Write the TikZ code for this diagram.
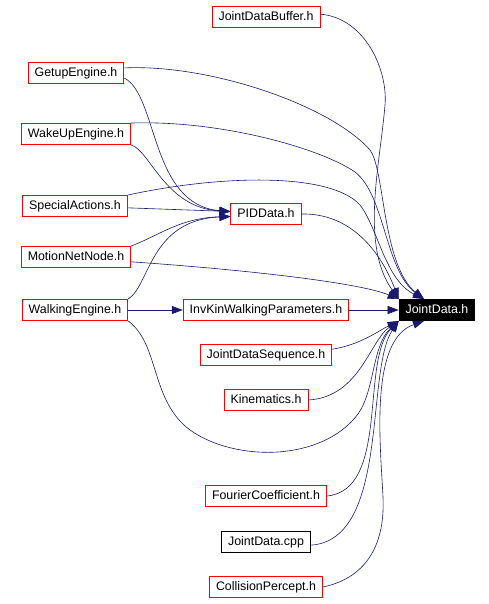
\documentclass[tikz,border=0pt]{standalone}
\usepackage{fontspec}
\setmainfont{Liberation Sans}
\usepackage{tikz}
\usetikzlibrary{arrows.meta}
\definecolor{incblue}{HTML}{191970}

\begin{document}
\begin{tikzpicture}[x=1pt, y=-1pt, >={Triangle[length=11pt,width=8pt]}, line width=0.6pt,
	hfile/.style={rectangle, draw=red, line width=0.9pt, minimum height=21pt, inner xsep=6.5pt, inner ysep=0pt, text height=9pt, text depth=2.5pt, font=\fontsize{12.4}{14}\selectfont},
	cfile/.style={hfile, draw=black},
	focus/.style={hfile, draw=black, fill=black, text=white},
	inc/.style={->, draw=incblue, line width=0.6pt}]
	
	\useasboundingbox (0,0) rectangle (489,604);
	
	\node [hfile] (jdb) at (266,17) {JointDataBuffer.h};
	\node [hfile] (getup) at (76,73) {GetupEngine.h};
	\node [hfile] (wakeup) at (76,134) {WakeUpEngine.h};
	\node [hfile] (special) at (75,206) {SpecialActions.h};
	\node [hfile] (pid) at (266,214) {PIDData.h};
	\node [hfile] (motion) at (76,257) {MotionNetNode.h};
	\node [hfile] (walking) at (75,310) {WalkingEngine.h};
	\node [hfile] (invkin) at (266,310) {InvKinWalkingParameters.h};
	\node [focus] (jd) at (437,310) {JointData.h};
	\node [hfile] (seq) at (266,355) {JointDataSequence.h};
	\node [hfile] (kin) at (266,400) {Kinematics.h};
	\node [hfile] (fourier) at (266,496) {FourierCoefficient.h};
	\node [cfile] (cpp) at (266,542) {JointData.cpp};
	\node [hfile] (coll) at (266,587) {CollisionPercept.h};
	
	\draw [inc] (getup.354) .. controls (158,95) and (150,205) .. (pid.176);
	\draw [inc] (wakeup.south east) .. controls (150,150) and (165,208) .. (pid.176);
	\path (special.358) edge [inc] (pid.176);
	\draw [inc] (motion.north east) .. controls (160,235) and (180,218) .. (pid.184);
	\draw [inc] (walking.north east) .. controls (150,285) and (150,220) .. (pid.184);
	
	\draw [inc] (jdb.3) .. controls (365,18) and (388,70) .. (385,105) .. controls (380,165) and (360,245) .. (jd.north west);
	\draw [inc] (getup.6) .. controls (210,64) and (330,105) .. (370,150) .. controls (385,170) and (382,265) .. (jd.140);
	\draw [inc] (wakeup.north east) .. controls (220,120) and (320,148) .. (355,172) .. controls (385,195) and (385,270) .. (jd.140);
	\draw [inc] (special.north east) .. controls (220,175) and (330,172) .. (360,205) .. controls (378,228) and (385,280) .. (jd.140);
	\draw [inc] (pid.east) .. controls (350,213) and (380,250) .. (jd.north west);
	\draw [inc] (motion.355) .. controls (250,270) and (360,283) .. (jd.north west);
	
	\path (walking) edge [inc] (invkin);
	\path (invkin) edge [inc] (jd);
	\draw [inc] (walking.south east) .. controls (160,345) and (150,400) .. (190,430) .. controls (235,462) and (322,462) .. (358,414) .. controls (375,390) and (372,345) .. (jd.south west);
	
	\draw [inc] (seq.5) .. controls (360,345) and (380,330) .. (jd.south west);
	\draw [inc] (kin.east) .. controls (360,397) and (370,340) .. (jd.south west);
	\draw [inc] (fourier.east) .. controls (390,490) and (360,360) .. (jd.south west);
	\draw [inc] (cpp.356) .. controls (390,540) and (365,370) .. (jd.south west);
	\draw [inc] (coll.east) .. controls (370,577) and (385,540) .. (383,497) .. controls (380,440) and (370,340) .. (jd.220);
\end{tikzpicture}
\end{document}
